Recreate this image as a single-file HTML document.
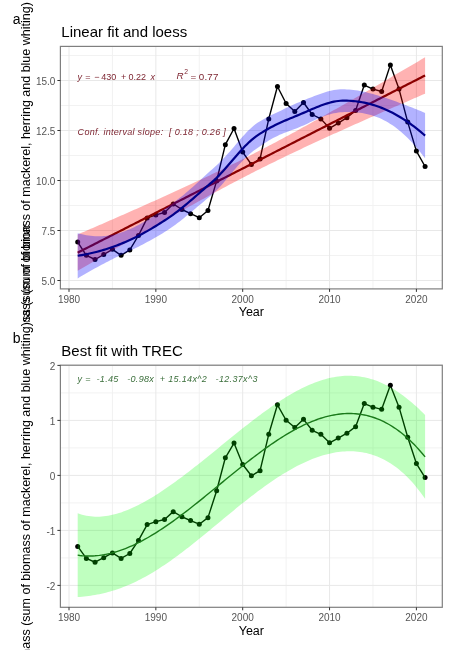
<!DOCTYPE html>
<html><head><meta charset="utf-8"><style>
html,body{margin:0;padding:0;background:#fff;}
svg{display:block;filter:blur(0.35px);}
text{font-family:"Liberation Sans",sans-serif;}
.tk{font-size:10px;fill:#555;}
.at{font-size:12.5px;fill:#000;}
.ti{font-size:15px;fill:#000;}
.tag{font-size:14px;fill:#000;}
.ann{font-size:9px;white-space:pre;}
</style></head><body>
<svg width="455" height="650" viewBox="0 0 455 650">
<rect x="60.40" y="46.40" width="381.90" height="242.50" fill="#fff"/>
<line x1="112.43" x2="112.43" y1="46.40" y2="288.90" stroke="#F1F1F1" stroke-width="0.9"/>
<line x1="199.28" x2="199.28" y1="46.40" y2="288.90" stroke="#F1F1F1" stroke-width="0.9"/>
<line x1="286.12" x2="286.12" y1="46.40" y2="288.90" stroke="#F1F1F1" stroke-width="0.9"/>
<line x1="372.98" x2="372.98" y1="46.40" y2="288.90" stroke="#F1F1F1" stroke-width="0.9"/>
<line x1="60.40" x2="442.30" y1="255.50" y2="255.50" stroke="#F1F1F1" stroke-width="0.9"/>
<line x1="60.40" x2="442.30" y1="205.50" y2="205.50" stroke="#F1F1F1" stroke-width="0.9"/>
<line x1="60.40" x2="442.30" y1="155.50" y2="155.50" stroke="#F1F1F1" stroke-width="0.9"/>
<line x1="60.40" x2="442.30" y1="105.50" y2="105.50" stroke="#F1F1F1" stroke-width="0.9"/>
<line x1="60.40" x2="442.30" y1="55.50" y2="55.50" stroke="#F1F1F1" stroke-width="0.9"/>
<line x1="69.00" x2="69.00" y1="46.40" y2="288.90" stroke="#E8E8E8" stroke-width="1"/>
<line x1="155.85" x2="155.85" y1="46.40" y2="288.90" stroke="#E8E8E8" stroke-width="1"/>
<line x1="242.70" x2="242.70" y1="46.40" y2="288.90" stroke="#E8E8E8" stroke-width="1"/>
<line x1="329.55" x2="329.55" y1="46.40" y2="288.90" stroke="#E8E8E8" stroke-width="1"/>
<line x1="416.40" x2="416.40" y1="46.40" y2="288.90" stroke="#E8E8E8" stroke-width="1"/>
<line x1="60.40" x2="442.30" y1="280.50" y2="280.50" stroke="#E8E8E8" stroke-width="1"/>
<line x1="60.40" x2="442.30" y1="230.50" y2="230.50" stroke="#E8E8E8" stroke-width="1"/>
<line x1="60.40" x2="442.30" y1="180.50" y2="180.50" stroke="#E8E8E8" stroke-width="1"/>
<line x1="60.40" x2="442.30" y1="130.50" y2="130.50" stroke="#E8E8E8" stroke-width="1"/>
<line x1="60.40" x2="442.30" y1="80.50" y2="80.50" stroke="#E8E8E8" stroke-width="1"/>
<polyline points="77.69,242.10 86.37,255.30 95.06,259.50 103.74,254.50 112.43,249.30 121.11,255.30 129.80,249.90 138.48,235.50 147.17,218.10 155.85,214.90 164.54,212.50 173.22,203.90 181.91,209.50 190.59,213.70 199.28,217.70 207.96,210.50 216.65,180.90 225.33,144.70 234.02,128.50 242.70,152.10 251.39,164.50 260.07,158.90 268.75,118.90 277.44,86.50 286.12,103.50 294.81,111.50 303.50,102.50 312.18,114.50 320.87,118.90 329.55,128.30 338.24,123.10 346.92,117.70 355.61,110.50 364.29,85.10 372.98,89.10 381.66,91.50 390.35,64.90 399.03,89.10 407.72,122.10 416.40,151.10 425.09,166.50" fill="none" stroke="#000" stroke-width="1.4" stroke-linejoin="round"/>
<circle cx="77.69" cy="242.10" r="2.5" fill="#000"/>
<circle cx="86.37" cy="255.30" r="2.5" fill="#000"/>
<circle cx="95.06" cy="259.50" r="2.5" fill="#000"/>
<circle cx="103.74" cy="254.50" r="2.5" fill="#000"/>
<circle cx="112.43" cy="249.30" r="2.5" fill="#000"/>
<circle cx="121.11" cy="255.30" r="2.5" fill="#000"/>
<circle cx="129.80" cy="249.90" r="2.5" fill="#000"/>
<circle cx="138.48" cy="235.50" r="2.5" fill="#000"/>
<circle cx="147.17" cy="218.10" r="2.5" fill="#000"/>
<circle cx="155.85" cy="214.90" r="2.5" fill="#000"/>
<circle cx="164.54" cy="212.50" r="2.5" fill="#000"/>
<circle cx="173.22" cy="203.90" r="2.5" fill="#000"/>
<circle cx="181.91" cy="209.50" r="2.5" fill="#000"/>
<circle cx="190.59" cy="213.70" r="2.5" fill="#000"/>
<circle cx="199.28" cy="217.70" r="2.5" fill="#000"/>
<circle cx="207.96" cy="210.50" r="2.5" fill="#000"/>
<circle cx="216.65" cy="180.90" r="2.5" fill="#000"/>
<circle cx="225.33" cy="144.70" r="2.5" fill="#000"/>
<circle cx="234.02" cy="128.50" r="2.5" fill="#000"/>
<circle cx="242.70" cy="152.10" r="2.5" fill="#000"/>
<circle cx="251.39" cy="164.50" r="2.5" fill="#000"/>
<circle cx="260.07" cy="158.90" r="2.5" fill="#000"/>
<circle cx="268.75" cy="118.90" r="2.5" fill="#000"/>
<circle cx="277.44" cy="86.50" r="2.5" fill="#000"/>
<circle cx="286.12" cy="103.50" r="2.5" fill="#000"/>
<circle cx="294.81" cy="111.50" r="2.5" fill="#000"/>
<circle cx="303.50" cy="102.50" r="2.5" fill="#000"/>
<circle cx="312.18" cy="114.50" r="2.5" fill="#000"/>
<circle cx="320.87" cy="118.90" r="2.5" fill="#000"/>
<circle cx="329.55" cy="128.30" r="2.5" fill="#000"/>
<circle cx="338.24" cy="123.10" r="2.5" fill="#000"/>
<circle cx="346.92" cy="117.70" r="2.5" fill="#000"/>
<circle cx="355.61" cy="110.50" r="2.5" fill="#000"/>
<circle cx="364.29" cy="85.10" r="2.5" fill="#000"/>
<circle cx="372.98" cy="89.10" r="2.5" fill="#000"/>
<circle cx="381.66" cy="91.50" r="2.5" fill="#000"/>
<circle cx="390.35" cy="64.90" r="2.5" fill="#000"/>
<circle cx="399.03" cy="89.10" r="2.5" fill="#000"/>
<circle cx="407.72" cy="122.10" r="2.5" fill="#000"/>
<circle cx="416.40" cy="151.10" r="2.5" fill="#000"/>
<circle cx="425.09" cy="166.50" r="2.5" fill="#000"/>
<polygon points="77.69,234.50 79.86,233.56 82.03,232.62 84.20,231.68 86.37,230.74 88.54,229.80 90.71,228.85 92.88,227.91 95.06,226.97 97.23,226.02 99.40,225.08 101.57,224.13 103.74,223.18 105.91,222.24 108.08,221.29 110.25,220.34 112.43,219.39 114.60,218.44 116.77,217.49 118.94,216.53 121.11,215.58 123.28,214.63 125.45,213.67 127.62,212.71 129.80,211.76 131.97,210.80 134.14,209.84 136.31,208.88 138.48,207.92 140.65,206.95 142.82,205.99 144.99,205.02 147.17,204.05 149.34,203.08 151.51,202.11 153.68,201.14 155.85,200.17 158.02,199.19 160.19,198.22 162.36,197.24 164.54,196.26 166.71,195.28 168.88,194.29 171.05,193.31 173.22,192.32 175.39,191.33 177.56,190.33 179.73,189.34 181.91,188.34 184.08,187.34 186.25,186.34 188.42,185.34 190.59,184.33 192.76,183.32 194.93,182.31 197.10,181.30 199.28,180.28 201.45,179.26 203.62,178.23 205.79,177.21 207.96,176.18 210.13,175.15 212.30,174.11 214.47,173.07 216.65,172.03 218.82,170.98 220.99,169.93 223.16,168.88 225.33,167.82 227.50,166.76 229.67,165.69 231.84,164.62 234.02,163.55 236.19,162.47 238.36,161.39 240.53,160.31 242.70,159.22 244.87,158.13 247.04,157.03 249.21,155.93 251.39,154.82 253.56,153.71 255.73,152.60 257.90,151.48 260.07,150.36 262.24,149.23 264.41,148.10 266.58,146.97 268.75,145.83 270.93,144.69 273.10,143.54 275.27,142.39 277.44,141.24 279.61,140.08 281.78,138.92 283.95,137.76 286.12,136.59 288.30,135.42 290.47,134.24 292.64,133.06 294.81,131.88 296.98,130.69 299.15,129.51 301.32,128.31 303.50,127.12 305.67,125.92 307.84,124.72 310.01,123.52 312.18,122.31 314.35,121.11 316.52,119.90 318.69,118.68 320.87,117.47 323.04,116.25 325.21,115.03 327.38,113.80 329.55,112.58 331.72,111.35 333.89,110.12 336.06,108.89 338.24,107.66 340.41,106.43 342.58,105.19 344.75,103.95 346.92,102.71 349.09,101.47 351.26,100.23 353.43,98.98 355.61,97.74 357.78,96.49 359.95,95.24 362.12,93.99 364.29,92.74 366.46,91.49 368.63,90.23 370.80,88.98 372.98,87.72 375.15,86.46 377.32,85.21 379.49,83.95 381.66,82.69 383.83,81.42 386.00,80.16 388.17,78.90 390.35,77.63 392.52,76.37 394.69,75.10 396.86,73.84 399.03,72.57 401.20,71.30 403.37,70.03 405.54,68.76 407.72,67.49 409.89,66.22 412.06,64.95 414.23,63.68 416.40,62.40 418.57,61.13 420.74,59.85 422.91,58.58 425.09,57.30 425.09,93.65 422.91,94.59 420.74,95.53 418.57,96.47 416.40,97.41 414.23,98.36 412.06,99.30 409.89,100.24 407.72,101.19 405.54,102.13 403.37,103.07 401.20,104.02 399.03,104.97 396.86,105.91 394.69,106.86 392.52,107.81 390.35,108.76 388.17,109.71 386.00,110.66 383.83,111.62 381.66,112.57 379.49,113.52 377.32,114.48 375.15,115.44 372.98,116.39 370.80,117.35 368.63,118.31 366.46,119.27 364.29,120.24 362.12,121.20 359.95,122.16 357.78,123.13 355.61,124.10 353.43,125.07 351.26,126.04 349.09,127.01 346.92,127.98 344.75,128.96 342.58,129.93 340.41,130.91 338.24,131.89 336.06,132.88 333.89,133.86 331.72,134.85 329.55,135.83 327.38,136.82 325.21,137.82 323.04,138.81 320.87,139.81 318.69,140.81 316.52,141.81 314.35,142.81 312.18,143.82 310.01,144.83 307.84,145.84 305.67,146.85 303.50,147.87 301.32,148.89 299.15,149.92 296.98,150.94 294.81,151.97 292.64,153.01 290.47,154.04 288.30,155.08 286.12,156.12 283.95,157.17 281.78,158.22 279.61,159.28 277.44,160.33 275.27,161.39 273.10,162.46 270.93,163.53 268.75,164.60 266.58,165.68 264.41,166.76 262.24,167.84 260.07,168.93 257.90,170.03 255.73,171.12 253.56,172.22 251.39,173.33 249.21,174.44 247.04,175.55 244.87,176.67 242.70,177.79 240.53,178.92 238.36,180.05 236.19,181.18 234.02,182.32 231.84,183.46 229.67,184.61 227.50,185.76 225.33,186.91 223.16,188.07 220.99,189.23 218.82,190.40 216.65,191.56 214.47,192.74 212.30,193.91 210.13,195.09 207.96,196.27 205.79,197.46 203.62,198.64 201.45,199.84 199.28,201.03 197.10,202.23 194.93,203.43 192.76,204.63 190.59,205.84 188.42,207.05 186.25,208.26 184.08,209.47 181.91,210.69 179.73,211.90 177.56,213.12 175.39,214.35 173.22,215.57 171.05,216.80 168.88,218.03 166.71,219.26 164.54,220.49 162.36,221.73 160.19,222.96 158.02,224.20 155.85,225.44 153.68,226.68 151.51,227.92 149.34,229.17 147.17,230.41 144.99,231.66 142.82,232.91 140.65,234.16 138.48,235.41 136.31,236.66 134.14,237.92 131.97,239.17 129.80,240.43 127.62,241.69 125.45,242.95 123.28,244.21 121.11,245.47 118.94,246.73 116.77,247.99 114.60,249.25 112.43,250.52 110.25,251.78 108.08,253.05 105.91,254.32 103.74,255.58 101.57,256.85 99.40,258.12 97.23,259.39 95.06,260.66 92.88,261.93 90.71,263.20 88.54,264.48 86.37,265.75 84.20,267.02 82.03,268.30 79.86,269.57 77.69,270.85" fill="rgb(255,0,0)" fill-opacity="0.3"/>
<polyline points="77.69,252.67 79.86,251.57 82.03,250.46 84.20,249.35 86.37,248.24 88.54,247.14 90.71,246.03 92.88,244.92 95.06,243.81 97.23,242.71 99.40,241.60 101.57,240.49 103.74,239.38 105.91,238.28 108.08,237.17 110.25,236.06 112.43,234.95 114.60,233.85 116.77,232.74 118.94,231.63 121.11,230.52 123.28,229.42 125.45,228.31 127.62,227.20 129.80,226.09 131.97,224.99 134.14,223.88 136.31,222.77 138.48,221.66 140.65,220.56 142.82,219.45 144.99,218.34 147.17,217.23 149.34,216.13 151.51,215.02 153.68,213.91 155.85,212.80 158.02,211.70 160.19,210.59 162.36,209.48 164.54,208.37 166.71,207.27 168.88,206.16 171.05,205.05 173.22,203.94 175.39,202.84 177.56,201.73 179.73,200.62 181.91,199.51 184.08,198.41 186.25,197.30 188.42,196.19 190.59,195.08 192.76,193.98 194.93,192.87 197.10,191.76 199.28,190.65 201.45,189.55 203.62,188.44 205.79,187.33 207.96,186.22 210.13,185.12 212.30,184.01 214.47,182.90 216.65,181.80 218.82,180.69 220.99,179.58 223.16,178.47 225.33,177.37 227.50,176.26 229.67,175.15 231.84,174.04 234.02,172.94 236.19,171.83 238.36,170.72 240.53,169.61 242.70,168.51 244.87,167.40 247.04,166.29 249.21,165.18 251.39,164.08 253.56,162.97 255.73,161.86 257.90,160.75 260.07,159.65 262.24,158.54 264.41,157.43 266.58,156.32 268.75,155.22 270.93,154.11 273.10,153.00 275.27,151.89 277.44,150.79 279.61,149.68 281.78,148.57 283.95,147.46 286.12,146.36 288.30,145.25 290.47,144.14 292.64,143.03 294.81,141.93 296.98,140.82 299.15,139.71 301.32,138.60 303.50,137.50 305.67,136.39 307.84,135.28 310.01,134.17 312.18,133.07 314.35,131.96 316.52,130.85 318.69,129.74 320.87,128.64 323.04,127.53 325.21,126.42 327.38,125.31 329.55,124.21 331.72,123.10 333.89,121.99 336.06,120.88 338.24,119.78 340.41,118.67 342.58,117.56 344.75,116.45 346.92,115.35 349.09,114.24 351.26,113.13 353.43,112.02 355.61,110.92 357.78,109.81 359.95,108.70 362.12,107.59 364.29,106.49 366.46,105.38 368.63,104.27 370.80,103.17 372.98,102.06 375.15,100.95 377.32,99.84 379.49,98.74 381.66,97.63 383.83,96.52 386.00,95.41 388.17,94.31 390.35,93.20 392.52,92.09 394.69,90.98 396.86,89.88 399.03,88.77 401.20,87.66 403.37,86.55 405.54,85.45 407.72,84.34 409.89,83.23 412.06,82.12 414.23,81.02 416.40,79.91 418.57,78.80 420.74,77.69 422.91,76.59 425.09,75.48" fill="none" stroke="#8B0000" stroke-width="2.2"/>
<polygon points="77.69,233.14 79.86,233.74 82.03,234.27 84.20,234.75 86.37,235.16 88.54,235.51 90.71,235.79 92.88,236.01 95.06,236.16 97.23,236.24 99.40,236.26 101.57,236.20 103.74,236.08 105.91,235.88 108.08,235.61 110.25,235.27 112.43,234.86 114.60,234.38 116.77,233.83 118.94,233.22 121.11,232.53 123.28,231.79 125.45,230.98 127.62,230.11 129.80,229.19 131.97,228.21 134.14,227.18 136.31,226.10 138.48,224.98 140.65,223.82 142.82,222.62 144.99,221.38 147.17,220.11 149.34,218.80 151.51,217.47 153.68,216.10 155.85,214.72 158.02,213.30 160.19,211.87 162.36,210.41 164.54,208.93 166.71,207.43 168.88,205.92 171.05,204.38 173.22,202.81 175.39,201.20 177.56,199.56 179.73,197.87 181.91,196.15 184.08,194.39 186.25,192.58 188.42,190.73 190.59,188.84 192.76,186.92 194.93,184.97 197.10,182.99 199.28,180.99 201.45,178.99 203.62,176.99 205.79,175.00 207.96,173.04 210.13,171.11 212.30,169.23 214.47,167.32 216.65,165.33 218.82,163.24 220.99,161.07 223.16,158.82 225.33,156.50 227.50,154.11 229.67,151.67 231.84,149.18 234.02,146.66 236.19,144.12 238.36,141.58 240.53,139.07 242.70,136.59 244.87,134.18 247.04,131.87 249.21,129.68 251.39,127.64 253.56,125.77 255.73,124.11 257.90,122.61 260.07,121.22 262.24,119.92 264.41,118.70 266.58,117.54 268.75,116.43 270.93,115.35 273.10,114.30 275.27,113.26 277.44,112.22 279.61,111.19 281.78,110.15 283.95,109.11 286.12,108.07 288.30,107.03 290.47,106.01 292.64,105.00 294.81,104.02 296.98,103.06 299.15,102.15 301.32,101.25 303.50,100.37 305.67,99.48 307.84,98.61 310.01,97.74 312.18,96.89 314.35,96.05 316.52,95.23 318.69,94.43 320.87,93.66 323.04,92.92 325.21,92.22 327.38,91.56 329.55,90.97 331.72,90.45 333.89,90.00 336.06,89.64 338.24,89.38 340.41,89.23 342.58,89.21 344.75,89.27 346.92,89.38 349.09,89.54 351.26,89.74 353.43,89.99 355.61,90.28 357.78,90.61 359.95,90.99 362.12,91.41 364.29,91.86 366.46,92.35 368.63,92.88 370.80,93.44 372.98,94.02 375.15,94.64 377.32,95.28 379.49,95.95 381.66,96.63 383.83,97.34 386.00,98.06 388.17,98.80 390.35,99.55 392.52,100.31 394.69,101.09 396.86,101.87 399.03,102.66 401.20,103.45 403.37,104.26 405.54,105.08 407.72,105.91 409.89,106.74 412.06,107.59 414.23,108.45 416.40,109.33 418.57,110.22 420.74,111.12 422.91,112.04 425.09,112.98 425.09,158.23 422.91,155.41 420.74,152.67 418.57,150.01 416.40,147.45 414.23,144.97 412.06,142.58 409.89,140.29 407.72,138.08 405.54,135.97 403.37,133.96 401.20,132.04 399.03,130.21 396.86,128.48 394.69,126.85 392.52,125.32 390.35,123.89 388.17,122.55 386.00,121.30 383.83,120.15 381.66,119.09 379.49,118.11 377.32,117.22 375.15,116.41 372.98,115.67 370.80,115.01 368.63,114.43 366.46,113.91 364.29,113.46 362.12,113.07 359.95,112.75 357.78,112.49 355.61,112.28 353.43,112.13 351.26,112.03 349.09,111.98 346.92,111.98 344.75,112.04 342.58,112.13 340.41,112.30 338.24,112.56 336.06,112.91 333.89,113.34 331.72,113.85 329.55,114.43 327.38,115.09 325.21,115.82 323.04,116.62 320.87,117.47 318.69,118.38 316.52,119.33 314.35,120.31 312.18,121.32 310.01,122.35 307.84,123.38 305.67,124.40 303.50,125.40 301.32,126.37 299.15,127.29 296.98,128.16 294.81,128.99 292.64,129.80 290.47,130.59 288.30,131.39 286.12,132.20 283.95,133.04 281.78,133.93 279.61,134.87 277.44,135.88 275.27,136.94 273.10,138.08 270.93,139.29 268.75,140.56 266.58,141.89 264.41,143.28 262.24,144.71 260.07,146.19 257.90,147.71 255.73,149.25 253.56,150.87 251.39,152.61 249.21,154.47 247.04,156.45 244.87,158.53 242.70,160.72 240.53,163.00 238.36,165.37 236.19,167.81 234.02,170.31 231.84,172.87 229.67,175.45 227.50,178.04 225.33,180.62 223.16,183.17 220.99,185.64 218.82,188.03 216.65,190.30 214.47,192.42 212.30,194.37 210.13,196.21 207.96,198.05 205.79,199.87 203.62,201.68 201.45,203.48 199.28,205.29 197.10,207.09 194.93,208.90 192.76,210.71 190.59,212.52 188.42,214.32 186.25,216.12 184.08,217.90 181.91,219.66 179.73,221.40 177.56,223.09 175.39,224.74 173.22,226.33 171.05,227.85 168.88,229.29 166.71,230.68 164.54,232.05 162.36,233.39 160.19,234.71 158.02,236.00 155.85,237.27 153.68,238.52 151.51,239.74 149.34,240.94 147.17,242.12 144.99,243.28 142.82,244.41 140.65,245.53 138.48,246.63 136.31,247.71 134.14,248.78 131.97,249.83 129.80,250.87 127.62,251.90 125.45,252.92 123.28,253.94 121.11,254.97 118.94,256.01 116.77,257.05 114.60,258.11 112.43,259.19 110.25,260.27 108.08,261.38 105.91,262.50 103.74,263.64 101.57,264.80 99.40,265.97 97.23,267.15 95.06,268.36 92.88,269.57 90.71,270.80 88.54,272.04 86.37,273.29 84.20,274.55 82.03,275.82 79.86,277.10 77.69,278.39" fill="rgb(0,0,255)" fill-opacity="0.3"/>
<polyline points="77.69,255.76 79.86,255.42 82.03,255.05 84.20,254.65 86.37,254.22 88.54,253.77 90.71,253.29 92.88,252.79 95.06,252.26 97.23,251.70 99.40,251.11 101.57,250.50 103.74,249.86 105.91,249.19 108.08,248.50 110.25,247.77 112.43,247.03 114.60,246.25 116.77,245.44 118.94,244.61 121.11,243.75 123.28,242.87 125.45,241.95 127.62,241.00 129.80,240.03 131.97,239.02 134.14,237.98 136.31,236.90 138.48,235.80 140.65,234.67 142.82,233.51 144.99,232.33 147.17,231.11 149.34,229.87 151.51,228.60 153.68,227.31 155.85,225.99 158.02,224.65 160.19,223.29 162.36,221.90 164.54,220.49 166.71,219.06 168.88,217.61 171.05,216.11 173.22,214.57 175.39,212.97 177.56,211.32 179.73,209.64 181.91,207.91 184.08,206.14 186.25,204.35 188.42,202.53 190.59,200.68 192.76,198.81 194.93,196.93 197.10,195.04 199.28,193.14 201.45,191.24 203.62,189.33 205.79,187.43 207.96,185.54 210.13,183.66 212.30,181.80 214.47,179.87 216.65,177.81 218.82,175.63 220.99,173.35 223.16,170.99 225.33,168.56 227.50,166.08 229.67,163.56 231.84,161.02 234.02,158.49 236.19,155.97 238.36,153.47 240.53,151.03 242.70,148.65 244.87,146.36 247.04,144.16 249.21,142.08 251.39,140.12 253.56,138.32 255.73,136.68 257.90,135.16 260.07,133.71 262.24,132.32 264.41,130.99 266.58,129.71 268.75,128.49 270.93,127.32 273.10,126.19 275.27,125.10 277.44,124.05 279.61,123.03 281.78,122.04 283.95,121.08 286.12,120.13 288.30,119.21 290.47,118.30 292.64,117.40 294.81,116.50 296.98,115.61 299.15,114.72 301.32,113.81 303.50,112.88 305.67,111.94 307.84,110.99 310.01,110.05 312.18,109.11 314.35,108.18 316.52,107.28 318.69,106.40 320.87,105.56 323.04,104.77 325.21,104.02 327.38,103.33 329.55,102.70 331.72,102.15 333.89,101.67 336.06,101.27 338.24,100.97 340.41,100.77 342.58,100.67 344.75,100.65 346.92,100.68 349.09,100.76 351.26,100.88 353.43,101.06 355.61,101.28 357.78,101.55 359.95,101.87 362.12,102.24 364.29,102.66 366.46,103.13 368.63,103.65 370.80,104.22 372.98,104.85 375.15,105.52 377.32,106.25 379.49,107.03 381.66,107.86 383.83,108.74 386.00,109.68 388.17,110.67 390.35,111.72 392.52,112.82 394.69,113.97 396.86,115.18 399.03,116.43 401.20,117.74 403.37,119.11 405.54,120.53 407.72,121.99 409.89,123.51 412.06,125.09 414.23,126.71 416.40,128.39 418.57,130.12 420.74,131.89 422.91,133.72 425.09,135.60" fill="none" stroke="#00008B" stroke-width="2.2"/>
<text x="77.6" y="79.6" class="ann" fill="#7E2632" style="font-style:italic">y</text>
<text x="85.3" y="79.6" class="ann" fill="#7E2632" style="">=</text>
<text x="94.2" y="79.6" class="ann" fill="#7E2632" style="">−</text>
<text x="101.2" y="79.6" class="ann" fill="#7E2632" style="">430</text>
<text x="121.0" y="79.6" class="ann" fill="#7E2632" style="">+</text>
<text x="128.5" y="79.6" class="ann" fill="#7E2632" style="">0.22</text>
<text x="150.6" y="79.6" class="ann" fill="#7E2632" style="font-style:italic">x</text>
<text x="176.6" y="79.2" class="ann" fill="#7E2632" style="font-style:italic;font-size:9.8px">R</text>
<text x="184.2" y="74.0" class="ann" fill="#7E2632" style="font-size:6.8px">2</text>
<text x="190.6" y="79.6" class="ann" fill="#7E2632" style="font-size:9.8px">=</text>
<text x="198.8" y="79.6" class="ann" fill="#7E2632" style="font-size:9.8px;letter-spacing:0.2px">0.77</text>
<text x="77.6" y="134.8" class="ann" fill="#7E2632" style="font-style:italic;letter-spacing:0.3px">Conf. interval slope:  [ 0.18 ; 0.26 ]</text>
<rect x="60.40" y="46.40" width="381.90" height="242.50" fill="none" stroke="#7F7F7F" stroke-width="1.2"/>
<line x1="57.40" x2="60.40" y1="280.50" y2="280.50" stroke="#333" stroke-width="1"/>
<text x="55.40" y="284.60" class="tk" text-anchor="end">5.0</text>
<line x1="57.40" x2="60.40" y1="230.50" y2="230.50" stroke="#333" stroke-width="1"/>
<text x="55.40" y="234.60" class="tk" text-anchor="end">7.5</text>
<line x1="57.40" x2="60.40" y1="180.50" y2="180.50" stroke="#333" stroke-width="1"/>
<text x="55.40" y="184.60" class="tk" text-anchor="end">10.0</text>
<line x1="57.40" x2="60.40" y1="130.50" y2="130.50" stroke="#333" stroke-width="1"/>
<text x="55.40" y="134.60" class="tk" text-anchor="end">12.5</text>
<line x1="57.40" x2="60.40" y1="80.50" y2="80.50" stroke="#333" stroke-width="1"/>
<text x="55.40" y="84.60" class="tk" text-anchor="end">15.0</text>
<line x1="69.00" x2="69.00" y1="288.90" y2="291.90" stroke="#333" stroke-width="1"/>
<text x="69.00" y="302.70" class="tk" text-anchor="middle">1980</text>
<line x1="155.85" x2="155.85" y1="288.90" y2="291.90" stroke="#333" stroke-width="1"/>
<text x="155.85" y="302.70" class="tk" text-anchor="middle">1990</text>
<line x1="242.70" x2="242.70" y1="288.90" y2="291.90" stroke="#333" stroke-width="1"/>
<text x="242.70" y="302.70" class="tk" text-anchor="middle">2000</text>
<line x1="329.55" x2="329.55" y1="288.90" y2="291.90" stroke="#333" stroke-width="1"/>
<text x="329.55" y="302.70" class="tk" text-anchor="middle">2010</text>
<line x1="416.40" x2="416.40" y1="288.90" y2="291.90" stroke="#333" stroke-width="1"/>
<text x="416.40" y="302.70" class="tk" text-anchor="middle">2020</text>
<text x="251.35" y="316.40" class="at" text-anchor="middle">Year</text>
<text x="61.3" y="36.6" class="ti">Linear fit and loess</text>
<rect x="60.40" y="365.20" width="381.90" height="242.10" fill="#fff"/>
<line x1="112.43" x2="112.43" y1="365.20" y2="607.30" stroke="#F1F1F1" stroke-width="0.9"/>
<line x1="199.28" x2="199.28" y1="365.20" y2="607.30" stroke="#F1F1F1" stroke-width="0.9"/>
<line x1="286.12" x2="286.12" y1="365.20" y2="607.30" stroke="#F1F1F1" stroke-width="0.9"/>
<line x1="372.98" x2="372.98" y1="365.20" y2="607.30" stroke="#F1F1F1" stroke-width="0.9"/>
<line x1="60.40" x2="442.30" y1="557.90" y2="557.90" stroke="#F1F1F1" stroke-width="0.9"/>
<line x1="60.40" x2="442.30" y1="502.90" y2="502.90" stroke="#F1F1F1" stroke-width="0.9"/>
<line x1="60.40" x2="442.30" y1="447.90" y2="447.90" stroke="#F1F1F1" stroke-width="0.9"/>
<line x1="60.40" x2="442.30" y1="392.90" y2="392.90" stroke="#F1F1F1" stroke-width="0.9"/>
<line x1="69.00" x2="69.00" y1="365.20" y2="607.30" stroke="#E8E8E8" stroke-width="1"/>
<line x1="155.85" x2="155.85" y1="365.20" y2="607.30" stroke="#E8E8E8" stroke-width="1"/>
<line x1="242.70" x2="242.70" y1="365.20" y2="607.30" stroke="#E8E8E8" stroke-width="1"/>
<line x1="329.55" x2="329.55" y1="365.20" y2="607.30" stroke="#E8E8E8" stroke-width="1"/>
<line x1="416.40" x2="416.40" y1="365.20" y2="607.30" stroke="#E8E8E8" stroke-width="1"/>
<line x1="60.40" x2="442.30" y1="585.40" y2="585.40" stroke="#E8E8E8" stroke-width="1"/>
<line x1="60.40" x2="442.30" y1="530.40" y2="530.40" stroke="#E8E8E8" stroke-width="1"/>
<line x1="60.40" x2="442.30" y1="475.40" y2="475.40" stroke="#E8E8E8" stroke-width="1"/>
<line x1="60.40" x2="442.30" y1="420.40" y2="420.40" stroke="#E8E8E8" stroke-width="1"/>
<line x1="60.40" x2="442.30" y1="365.40" y2="365.40" stroke="#E8E8E8" stroke-width="1"/>
<polyline points="77.69,546.40 86.37,558.42 95.06,562.24 103.74,557.69 112.43,552.96 121.11,558.42 129.80,553.50 138.48,540.40 147.17,524.56 155.85,521.65 164.54,519.47 173.22,511.64 181.91,516.74 190.59,520.56 199.28,524.20 207.96,517.65 216.65,490.71 225.33,457.77 234.02,443.03 242.70,464.50 251.39,475.79 260.07,470.69 268.75,434.29 277.44,404.80 286.12,420.27 294.81,427.55 303.50,419.36 312.18,430.28 320.87,434.29 329.55,442.84 338.24,438.11 346.92,433.20 355.61,426.64 364.29,403.53 372.98,407.17 381.66,409.35 390.35,385.15 399.03,407.17 407.72,437.20 416.40,463.59 425.09,477.61" fill="none" stroke="#000" stroke-width="1.4" stroke-linejoin="round"/>
<circle cx="77.69" cy="546.40" r="2.5" fill="#000"/>
<circle cx="86.37" cy="558.42" r="2.5" fill="#000"/>
<circle cx="95.06" cy="562.24" r="2.5" fill="#000"/>
<circle cx="103.74" cy="557.69" r="2.5" fill="#000"/>
<circle cx="112.43" cy="552.96" r="2.5" fill="#000"/>
<circle cx="121.11" cy="558.42" r="2.5" fill="#000"/>
<circle cx="129.80" cy="553.50" r="2.5" fill="#000"/>
<circle cx="138.48" cy="540.40" r="2.5" fill="#000"/>
<circle cx="147.17" cy="524.56" r="2.5" fill="#000"/>
<circle cx="155.85" cy="521.65" r="2.5" fill="#000"/>
<circle cx="164.54" cy="519.47" r="2.5" fill="#000"/>
<circle cx="173.22" cy="511.64" r="2.5" fill="#000"/>
<circle cx="181.91" cy="516.74" r="2.5" fill="#000"/>
<circle cx="190.59" cy="520.56" r="2.5" fill="#000"/>
<circle cx="199.28" cy="524.20" r="2.5" fill="#000"/>
<circle cx="207.96" cy="517.65" r="2.5" fill="#000"/>
<circle cx="216.65" cy="490.71" r="2.5" fill="#000"/>
<circle cx="225.33" cy="457.77" r="2.5" fill="#000"/>
<circle cx="234.02" cy="443.03" r="2.5" fill="#000"/>
<circle cx="242.70" cy="464.50" r="2.5" fill="#000"/>
<circle cx="251.39" cy="475.79" r="2.5" fill="#000"/>
<circle cx="260.07" cy="470.69" r="2.5" fill="#000"/>
<circle cx="268.75" cy="434.29" r="2.5" fill="#000"/>
<circle cx="277.44" cy="404.80" r="2.5" fill="#000"/>
<circle cx="286.12" cy="420.27" r="2.5" fill="#000"/>
<circle cx="294.81" cy="427.55" r="2.5" fill="#000"/>
<circle cx="303.50" cy="419.36" r="2.5" fill="#000"/>
<circle cx="312.18" cy="430.28" r="2.5" fill="#000"/>
<circle cx="320.87" cy="434.29" r="2.5" fill="#000"/>
<circle cx="329.55" cy="442.84" r="2.5" fill="#000"/>
<circle cx="338.24" cy="438.11" r="2.5" fill="#000"/>
<circle cx="346.92" cy="433.20" r="2.5" fill="#000"/>
<circle cx="355.61" cy="426.64" r="2.5" fill="#000"/>
<circle cx="364.29" cy="403.53" r="2.5" fill="#000"/>
<circle cx="372.98" cy="407.17" r="2.5" fill="#000"/>
<circle cx="381.66" cy="409.35" r="2.5" fill="#000"/>
<circle cx="390.35" cy="385.15" r="2.5" fill="#000"/>
<circle cx="399.03" cy="407.17" r="2.5" fill="#000"/>
<circle cx="407.72" cy="437.20" r="2.5" fill="#000"/>
<circle cx="416.40" cy="463.59" r="2.5" fill="#000"/>
<circle cx="425.09" cy="477.61" r="2.5" fill="#000"/>
<polygon points="77.69,513.23 79.86,513.99 82.03,514.65 84.20,515.21 86.37,515.68 88.54,516.05 90.71,516.34 92.88,516.54 95.06,516.65 97.23,516.69 99.40,516.64 101.57,516.52 103.74,516.32 105.91,516.06 108.08,515.72 110.25,515.32 112.43,514.85 114.60,514.32 116.77,513.73 118.94,513.08 121.11,512.38 123.28,511.62 125.45,510.81 127.62,509.95 129.80,509.05 131.97,508.09 134.14,507.10 136.31,506.06 138.48,504.98 140.65,503.86 142.82,502.70 144.99,501.51 147.17,500.28 149.34,499.02 151.51,497.72 153.68,496.40 155.85,495.04 158.02,493.66 160.19,492.25 162.36,490.81 164.54,489.35 166.71,487.87 168.88,486.36 171.05,484.83 173.22,483.28 175.39,481.71 177.56,480.12 179.73,478.51 181.91,476.89 184.08,475.25 186.25,473.60 188.42,471.93 190.59,470.25 192.76,468.56 194.93,466.86 197.10,465.14 199.28,463.42 201.45,461.69 203.62,459.95 205.79,458.21 207.96,456.45 210.13,454.70 212.30,452.94 214.47,451.17 216.65,449.41 218.82,447.64 220.99,445.87 223.16,444.10 225.33,442.33 227.50,440.57 229.67,438.80 231.84,437.05 234.02,435.29 236.19,433.54 238.36,431.80 240.53,430.07 242.70,428.34 244.87,426.62 247.04,424.92 249.21,423.22 251.39,421.54 253.56,419.87 255.73,418.21 257.90,416.57 260.07,414.95 262.24,413.34 264.41,411.75 266.58,410.18 268.75,408.64 270.93,407.11 273.10,405.60 275.27,404.12 277.44,402.67 279.61,401.24 281.78,399.83 283.95,398.46 286.12,397.11 288.30,395.80 290.47,394.51 292.64,393.26 294.81,392.05 296.98,390.86 299.15,389.72 301.32,388.61 303.50,387.53 305.67,386.50 307.84,385.51 310.01,384.56 312.18,383.65 314.35,382.79 316.52,381.97 318.69,381.19 320.87,380.47 323.04,379.79 325.21,379.16 327.38,378.58 329.55,378.05 331.72,377.57 333.89,377.15 336.06,376.78 338.24,376.47 340.41,376.21 342.58,376.01 344.75,375.87 346.92,375.78 349.09,375.75 351.26,375.79 353.43,375.88 355.61,376.04 357.78,376.26 359.95,376.54 362.12,376.88 364.29,377.29 366.46,377.76 368.63,378.30 370.80,378.90 372.98,379.57 375.15,380.30 377.32,381.10 379.49,381.97 381.66,382.90 383.83,383.89 386.00,384.95 388.17,386.08 390.35,387.27 392.52,388.53 394.69,389.86 396.86,391.25 399.03,392.70 401.20,394.22 403.37,395.80 405.54,397.44 407.72,399.14 409.89,400.91 412.06,402.74 414.23,404.63 416.40,406.58 418.57,408.58 420.74,410.65 422.91,412.77 425.09,414.96 425.09,498.80 422.91,495.70 420.74,492.73 418.57,489.88 416.40,487.16 414.23,484.56 412.06,482.08 409.89,479.72 407.72,477.47 405.54,475.33 403.37,473.30 401.20,471.38 399.03,469.56 396.86,467.84 394.69,466.22 392.52,464.70 390.35,463.27 388.17,461.93 386.00,460.68 383.83,459.52 381.66,458.44 379.49,457.45 377.32,456.53 375.15,455.70 372.98,454.94 370.80,454.26 368.63,453.65 366.46,453.12 364.29,452.65 362.12,452.25 359.95,451.93 357.78,451.66 355.61,451.46 353.43,451.33 351.26,451.25 349.09,451.24 346.92,451.28 344.75,451.39 342.58,451.55 340.41,451.76 338.24,452.03 336.06,452.35 333.89,452.73 331.72,453.15 329.55,453.63 327.38,454.15 325.21,454.73 323.04,455.35 320.87,456.01 318.69,456.72 316.52,457.48 314.35,458.28 312.18,459.12 310.01,460.00 307.84,460.92 305.67,461.89 303.50,462.89 301.32,463.93 299.15,465.01 296.98,466.12 294.81,467.27 292.64,468.45 290.47,469.67 288.30,470.91 286.12,472.20 283.95,473.51 281.78,474.85 279.61,476.22 277.44,477.62 275.27,479.05 273.10,480.50 270.93,481.98 268.75,483.48 266.58,485.01 264.41,486.56 262.24,488.14 260.07,489.73 257.90,491.34 255.73,492.98 253.56,494.63 251.39,496.30 249.21,497.98 247.04,499.68 244.87,501.39 242.70,503.12 240.53,504.86 238.36,506.61 236.19,508.37 234.02,510.14 231.84,511.92 229.67,513.70 227.50,515.49 225.33,517.29 223.16,519.08 220.99,520.88 218.82,522.69 216.65,524.49 214.47,526.29 212.30,528.09 210.13,529.88 207.96,531.68 205.79,533.46 203.62,535.24 201.45,537.01 199.28,538.78 197.10,540.53 194.93,542.27 192.76,544.00 190.59,545.72 188.42,547.43 186.25,549.11 184.08,550.78 181.91,552.44 179.73,554.07 177.56,555.69 175.39,557.28 173.22,558.86 171.05,560.41 168.88,561.93 166.71,563.44 164.54,564.91 162.36,566.36 160.19,567.79 158.02,569.18 155.85,570.55 153.68,571.88 151.51,573.19 149.34,574.46 147.17,575.70 144.99,576.91 142.82,578.09 140.65,579.23 138.48,580.34 136.31,581.41 134.14,582.45 131.97,583.45 129.80,584.42 127.62,585.35 125.45,586.24 123.28,587.10 121.11,587.92 118.94,588.70 116.77,589.45 114.60,590.16 112.43,590.84 110.25,591.48 108.08,592.08 105.91,592.65 103.74,593.19 101.57,593.69 99.40,594.15 97.23,594.58 95.06,594.98 92.88,595.35 90.71,595.69 88.54,595.99 86.37,596.26 84.20,596.51 82.03,596.72 79.86,596.91 77.69,597.07" fill="rgb(0,255,0)" fill-opacity="0.25"/>
<polyline points="77.69,555.15 79.86,555.45 82.03,555.68 84.20,555.86 86.37,555.97 88.54,556.02 90.71,556.01 92.88,555.94 95.06,555.82 97.23,555.64 99.40,555.40 101.57,555.10 103.74,554.76 105.91,554.35 108.08,553.90 110.25,553.40 112.43,552.84 114.60,552.24 116.77,551.59 118.94,550.89 121.11,550.15 123.28,549.36 125.45,548.53 127.62,547.65 129.80,546.73 131.97,545.77 134.14,544.77 136.31,543.73 138.48,542.66 140.65,541.54 142.82,540.39 144.99,539.21 147.17,537.99 149.34,536.74 151.51,535.45 153.68,534.14 155.85,532.79 158.02,531.42 160.19,530.02 162.36,528.59 164.54,527.13 166.71,525.65 168.88,524.15 171.05,522.62 173.22,521.07 175.39,519.50 177.56,517.90 179.73,516.29 181.91,514.66 184.08,513.02 186.25,511.36 188.42,509.68 190.59,507.99 192.76,506.28 194.93,504.57 197.10,502.84 199.28,501.10 201.45,499.35 203.62,497.60 205.79,495.83 207.96,494.06 210.13,492.29 212.30,490.51 214.47,488.73 216.65,486.95 218.82,485.16 220.99,483.38 223.16,481.59 225.33,479.81 227.50,478.03 229.67,476.25 231.84,474.48 234.02,472.72 236.19,470.96 238.36,469.21 240.53,467.46 242.70,465.73 244.87,464.01 247.04,462.30 249.21,460.60 251.39,458.92 253.56,457.25 255.73,455.59 257.90,453.96 260.07,452.34 262.24,450.74 264.41,449.16 266.58,447.60 268.75,446.06 270.93,444.54 273.10,443.05 275.27,441.59 277.44,440.14 279.61,438.73 281.78,437.34 283.95,435.98 286.12,434.65 288.30,433.36 290.47,432.09 292.64,430.86 294.81,429.66 296.98,428.49 299.15,427.36 301.32,426.27 303.50,425.21 305.67,424.19 307.84,423.22 310.01,422.28 312.18,421.38 314.35,420.53 316.52,419.72 318.69,418.96 320.87,418.24 323.04,417.57 325.21,416.94 327.38,416.37 329.55,415.84 331.72,415.36 333.89,414.94 336.06,414.57 338.24,414.25 340.41,413.99 342.58,413.78 344.75,413.63 346.92,413.53 349.09,413.50 351.26,413.52 353.43,413.61 355.61,413.75 357.78,413.96 359.95,414.23 362.12,414.57 364.29,414.97 366.46,415.44 368.63,415.98 370.80,416.58 372.98,417.26 375.15,418.00 377.32,418.82 379.49,419.71 381.66,420.67 383.83,421.70 386.00,422.82 388.17,424.00 390.35,425.27 392.52,426.62 394.69,428.04 396.86,429.54 399.03,431.13 401.20,432.80 403.37,434.55 405.54,436.39 407.72,438.31 409.89,440.32 412.06,442.41 414.23,444.60 416.40,446.87 418.57,449.23 420.74,451.69 422.91,454.24 425.09,456.88" fill="none" stroke="#1A7A1A" stroke-width="1.4"/>
<text x="77.6" y="382.3" class="ann" fill="#3A6E3A" style="font-style:italic;letter-spacing:0.33px">y =  -1.45   -0.98x  + 15.14x^2   -12.37x^3</text>
<rect x="60.40" y="365.20" width="381.90" height="242.10" fill="none" stroke="#7F7F7F" stroke-width="1.2"/>
<line x1="57.40" x2="60.40" y1="585.40" y2="585.40" stroke="#333" stroke-width="1"/>
<text x="55.40" y="589.50" class="tk" text-anchor="end">-2</text>
<line x1="57.40" x2="60.40" y1="530.40" y2="530.40" stroke="#333" stroke-width="1"/>
<text x="55.40" y="534.50" class="tk" text-anchor="end">-1</text>
<line x1="57.40" x2="60.40" y1="475.40" y2="475.40" stroke="#333" stroke-width="1"/>
<text x="55.40" y="479.50" class="tk" text-anchor="end">0</text>
<line x1="57.40" x2="60.40" y1="420.40" y2="420.40" stroke="#333" stroke-width="1"/>
<text x="55.40" y="424.50" class="tk" text-anchor="end">1</text>
<line x1="57.40" x2="60.40" y1="365.40" y2="365.40" stroke="#333" stroke-width="1"/>
<text x="55.40" y="369.50" class="tk" text-anchor="end">2</text>
<line x1="69.00" x2="69.00" y1="607.30" y2="610.30" stroke="#333" stroke-width="1"/>
<text x="69.00" y="621.10" class="tk" text-anchor="middle">1980</text>
<line x1="155.85" x2="155.85" y1="607.30" y2="610.30" stroke="#333" stroke-width="1"/>
<text x="155.85" y="621.10" class="tk" text-anchor="middle">1990</text>
<line x1="242.70" x2="242.70" y1="607.30" y2="610.30" stroke="#333" stroke-width="1"/>
<text x="242.70" y="621.10" class="tk" text-anchor="middle">2000</text>
<line x1="329.55" x2="329.55" y1="607.30" y2="610.30" stroke="#333" stroke-width="1"/>
<text x="329.55" y="621.10" class="tk" text-anchor="middle">2010</text>
<line x1="416.40" x2="416.40" y1="607.30" y2="610.30" stroke="#333" stroke-width="1"/>
<text x="416.40" y="621.10" class="tk" text-anchor="middle">2020</text>
<text x="251.35" y="634.80" class="at" text-anchor="middle">Year</text>
<text x="61.3" y="355.8" class="ti">Best fit with TREC</text>
<clipPath id="ca"><rect x="0" y="0" width="60" height="322"/></clipPath>
<g clip-path="url(#ca)"><text transform="translate(29.5,179.70) rotate(-90)" class="at" text-anchor="middle">Biomass (sum of biomass of mackerel, herring and blue whiting)</text></g>
<clipPath id="cg"><rect x="0" y="224" width="60" height="98"/></clipPath>
<g clip-path="url(#cg)"><text transform="translate(29.5,167.70) rotate(-90)" class="at" text-anchor="middle">Biomass (sum of biomass of mackerel, herring and blue whiting)</text></g>
<text transform="translate(29.5,499.70) rotate(-90)" class="at" text-anchor="middle">Biomass (sum of biomass of mackerel, herring and blue whiting)</text>
<text x="12.8" y="24" class="tag">a</text>
<text x="12.8" y="343" class="tag">b</text>
</svg>
</body></html>
